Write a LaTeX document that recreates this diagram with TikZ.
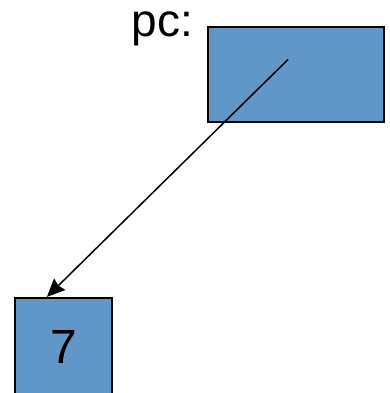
\documentclass[tikz,border=0pt]{standalone}
\usepackage{fontspec}
\setmainfont{Liberation Sans}
\usetikzlibrary{arrows.meta,positioning}

\definecolor{cellblue}{RGB}{97,150,200}

\begin{document}
\begin{tikzpicture}[x=1pt,y=1pt,
    cell/.style={draw,line width=2.2pt,fill=cellblue,inner sep=0pt,
      font=\fontsize{48}{52}\selectfont},
    ptrline/.style={line width=1.5pt,-{Stealth[length=18pt,width=16pt,inset=2pt]}}]
  \useasboundingbox (0,0) rectangle (390,393);
  \clip (0,0) rectangle (390,393);

  % the pointer variable and its label
  \node[cell,minimum width=176pt,minimum height=95pt] (pc) at (296,318.5) {};
  \node[anchor=base east,inner sep=0pt,font=\fontsize{46}{50}\selectfont]
    (pclabel) at (193,356) {pc:};

  % the value it points to
  \node[cell,minimum width=97pt,minimum height=97pt] (val) at (63.5,46.5) {7};

  % the pointer itself
  \coordinate (ptr) at ([xshift=-8pt,yshift=15pt]pc.center);
  \coordinate (tip) at ([xshift=33pt]val.north west);
  \draw[ptrline] (ptr) -- (tip);
\end{tikzpicture}
\end{document}
